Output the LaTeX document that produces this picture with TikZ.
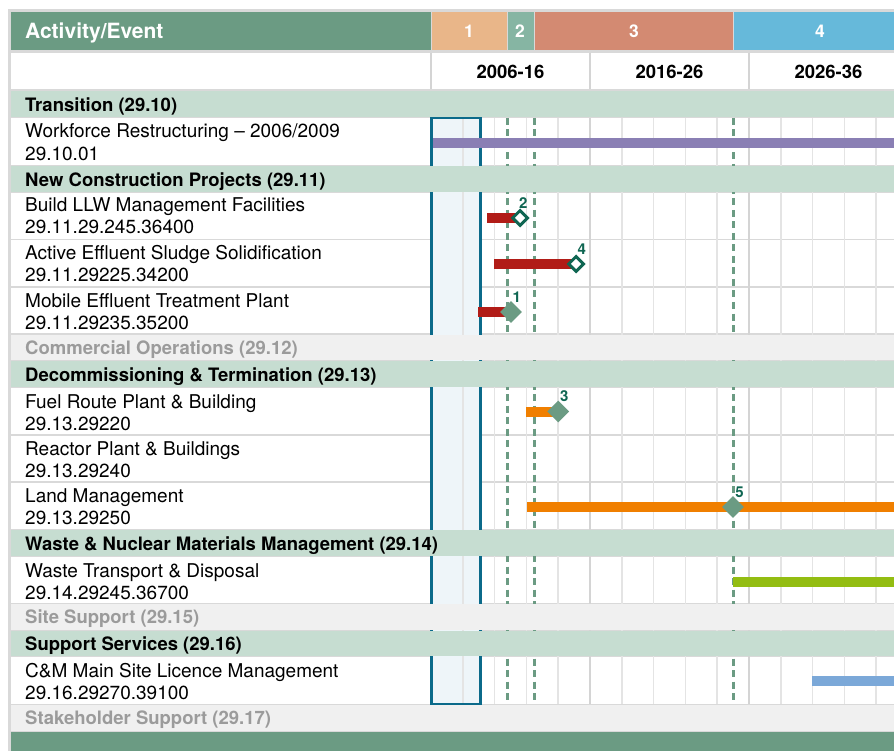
\documentclass[tikz,border=0pt]{standalone}
\usepackage{fontspec}
\setmainfont{TeX Gyre Heros}
\usetikzlibrary{shapes.geometric}
\definecolor{framegray}{HTML}{D9D9D9}
\definecolor{hdrgreen}{HTML}{6B9B83}
\definecolor{colA}{HTML}{E9B689}
\definecolor{colB}{HTML}{86B5A3}
\definecolor{colC}{HTML}{D38A72}
\definecolor{colD}{HTML}{66B9DA}
\definecolor{secgreen}{HTML}{C6DDD1}
\definecolor{rowgray}{HTML}{F0F0F0}
\definecolor{txtgray}{HTML}{9B9B9B}
\definecolor{boxfill}{HTML}{EEF5F9}
\definecolor{boxline}{HTML}{0B6A8A}
\definecolor{gridA}{HTML}{E4E4E4}
\definecolor{gridB}{HTML}{D4D4D4}
\definecolor{mkgreen}{HTML}{0F6652}
\definecolor{barpurple}{HTML}{8A7FB4}
\definecolor{barred}{HTML}{B11C17}
\definecolor{barorange}{HTML}{F07F00}
\definecolor{bargreen}{HTML}{93BD12}
\definecolor{barblue}{HTML}{7BA8D8}
\tikzset{
  bodytxt/.style={anchor=base west, inner sep=0pt, text=black, font=\fontsize{19}{22}\selectfont},
  sectxt/.style={anchor=base west, inner sep=0pt, text=black, font=\bfseries\fontsize{18.5}{22}\selectfont},
  graytxt/.style={anchor=base west, inner sep=0pt, text=txtgray, font=\bfseries\fontsize{18.5}{22}\selectfont},
  hdrtxt/.style={anchor=base west, inner sep=0pt, text=white, font=\bfseries\fontsize{21}{24}\selectfont},
  numtxt/.style={anchor=base, inner sep=0pt, text=white, font=\bfseries\fontsize{17.5}{20}\selectfont},
  pertxt/.style={anchor=base, inner sep=0pt, text=black, font=\bfseries\fontsize{18.5}{22}\selectfont},
  mklabel/.style={inner sep=0pt, text=mkgreen, font=\bfseries\fontsize{15}{15}\selectfont},
  openmk/.style={diamond, draw=mkgreen, fill=white, line width=3pt, minimum width=16pt, minimum height=16pt, inner sep=0pt},
  fullmk/.style={diamond, fill=hdrgreen, minimum width=22pt, minimum height=22pt, inner sep=0pt},
  milestone/.style={draw=hdrgreen, line width=3pt, dash pattern=on 7pt off 4.5pt},
  gridthin/.style={draw=gridA, line width=1.5pt},
  gridthick/.style={draw=gridB, line width=2.2pt}
}
\begin{document}
\begin{tikzpicture}[x=1pt,y=-1pt]
\useasboundingbox (0,0) rectangle (894,751);
\fill[white] (0,0) rectangle (894,751);
\fill[framegray] (8,9) rectangle (894,751);
% header
\fill[hdrgreen] (11,12) rectangle (430.5,50);
\fill[colA] (432,12) rectangle (507,50);
\fill[colB] (507.7,12) rectangle (534.3,50);
\fill[colC] (535,12) rectangle (733.3,50);
\fill[colD] (734,12) rectangle (894,50);
\node[hdrtxt] (hact) at (25,38.5) {Activity/Event};
\node[numtxt] (h1) at (469,37.5) {1};
\node[numtxt] (h2) at (520,37.5) {2};
\node[numtxt] (h3) at (634,37.5) {3};
\node[numtxt] (h4) at (820,37.5) {4};
% period row
\fill[white] (11,53) rectangle (894,89.5);
\foreach \x in {431,590,749} \draw[gridB, line width=2pt] (\x,53) -- (\x,89.5);
\node[pertxt] (p1) at (510.5,78.5) {2006-16};
\node[pertxt] (p2) at (669.5,78.5) {2016-26};
\node[pertxt] (p3) at (828.5,78.5) {2026-36};
% item rows backgrounds
\foreach \t/\b in {118/165.5, 193/239, 240.5/286.5, 288/333, 388/434, 435.5/481, 482.5/529, 557/603, 657/703.5}
  \fill[white] (11,\t) rectangle (894,\b);
% box fill
\fill[boxfill] (431,118) rectangle (480,704);
% grid
\foreach \k in {1,2,3,4,6,7,8,9,11,12,13,14}
  \draw[gridthin] ({431+31.8*\k},118) -- ({431+31.8*\k},704);
\foreach \k in {5,10}
  \draw[gridthick] ({431+31.8*\k},118) -- ({431+31.8*\k},704);
% milestone lines
\foreach \x in {507,534,733}
  \draw[milestone] (\x,118) -- (\x,704);
% box border
\draw[boxline, line width=3pt] (431,118) rectangle (480,704);
% section rows
\foreach \t/\b in {91/117, 166.5/192, 361/387, 530/556, 630.5/656}
  \fill[secgreen] (11,\t) rectangle (894,\b);
\foreach \t/\b in {334.5/360, 604/629.5, 704.5/730.5}
  \fill[rowgray] (11,\t) rectangle (894,\b);
\fill[hdrgreen] (11,732) rectangle (894,751);
% section texts
\node[sectxt] (s10) at (25,111.5) {Transition (29.10)};
\node[sectxt] (s11) at (25,187) {New Construction Projects (29.11)};
\node[graytxt] (s12) at (25,354) {Commercial Operations (29.12)};
\node[sectxt] (s13) at (25,381.5) {Decommissioning \& Termination (29.13)};
\node[sectxt] (s14) at (25,550.5) {Waste \& Nuclear Materials Management (29.14)};
\node[graytxt] (s15) at (25,623.5) {Site Support (29.15)};
\node[sectxt] (s16) at (25,650.5) {Support Services (29.16)};
\node[graytxt] (s17) at (25,724.5) {Stakeholder Support (29.17)};
% item texts
\node[bodytxt] (a1) at (25,138) {Workforce Restructuring – 2006/2009};
\node[bodytxt] (a1n) at (25,160.5) {29.10.01};
\node[bodytxt] (a2) at (25,212) {Build LLW Management Facilities};
\node[bodytxt] (a2n) at (25,234) {29.11.29.245.36400};
\node[bodytxt] (a3) at (25,260) {Active Effluent Sludge Solidification};
\node[bodytxt] (a3n) at (25,282) {29.11.29225.34200};
\node[bodytxt] (a4) at (25,307.5) {Mobile Effluent Treatment Plant};
\node[bodytxt] (a4n) at (25,329.5) {29.11.29235.35200};
\node[bodytxt] (a5) at (25,408) {Fuel Route Plant \& Building};
\node[bodytxt] (a5n) at (25,430) {29.13.29220};
\node[bodytxt] (a6) at (25,455) {Reactor Plant \& Buildings};
\node[bodytxt] (a6n) at (25,477) {29.13.29240};
\node[bodytxt] (a7) at (25,502.5) {Land Management};
\node[bodytxt] (a7n) at (25,524.5) {29.13.29250};
\node[bodytxt] (a8) at (25,577) {Waste Transport \& Disposal};
\node[bodytxt] (a8n) at (25,599) {29.14.29245.36700};
\node[bodytxt] (a9) at (25,677) {C\&M Main Site Licence Management};
\node[bodytxt] (a9n) at (25,699) {29.16.29270.39100};
% bars
\fill[barpurple] (433,138) rectangle (894,148);
\fill[barred] (487,213) rectangle (519,223);
\fill[barred] (494,259) rectangle (575,269);
\fill[barred] (478,307) rectangle (511,317);
\fill[barorange] (526,406.5) rectangle (558,416.5);
\fill[barorange] (527,502) rectangle (894,512);
\fill[bargreen] (733,577) rectangle (894,587);
\fill[barblue] (812,676) rectangle (894,686);
% milestones
\node[openmk] (m2) at (520,218) {};
\node[openmk] (m4) at (576,264) {};
\node[fullmk] (m1) at (511,312) {};
\node[fullmk] (m3) at (558.3,411.5) {};
\node[fullmk] (m5) at (733,507) {};
\node[mklabel] (l2) at (523.3,203) {2};
\node[mklabel] (l4) at (581.7,249.5) {4};
\node[mklabel] (l1) at (516.7,297) {1};
\node[mklabel] (l3) at (564.3,396.5) {3};
\node[mklabel] (l5) at (739.5,492.5) {5};
\end{tikzpicture}
\end{document}
